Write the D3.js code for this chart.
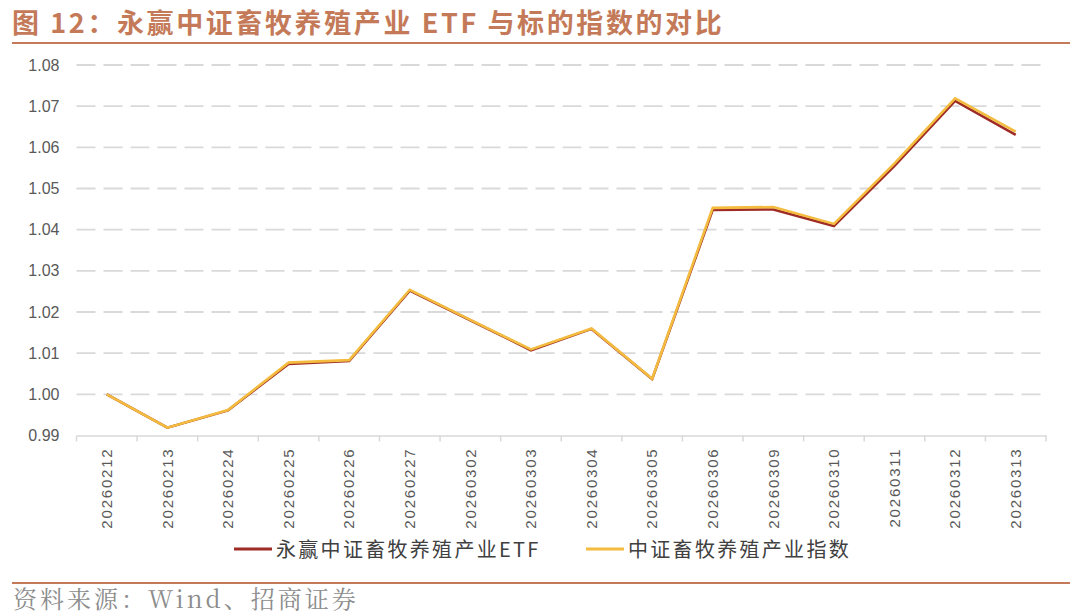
<!DOCTYPE html>
<html><head><meta charset="utf-8">
<script src="https://cdn.jsdelivr.net/npm/d3@7"></script>
<style>body{margin:0;background:#fff;} svg{display:block;}</style>
</head><body><svg id="c" width="1080" height="616"></svg>
<script>
const categories = ["20260212","20260213","20260224","20260225","20260226","20260227","20260302","20260303","20260304","20260305","20260306","20260309","20260310","20260311","20260312","20260313"];
const etfValues = [1.0000,0.9919,0.9961,1.0074,1.0081,1.0252,1.0180,1.0107,1.0159,1.0037,1.0448,1.0449,1.0409,1.0555,1.0713,1.0630];
const indexValues = [1.0000,0.9919,0.9962,1.0077,1.0083,1.0254,1.0181,1.0109,1.0160,1.0038,1.0453,1.0455,1.0414,1.0561,1.0719,1.0638];
const yTicks = [0.99,1.00,1.01,1.02,1.03,1.04,1.05,1.06,1.07,1.08];
const seriesNames = ["永赢中证畜牧养殖产业ETF","中证畜牧养殖产业指数"];
const colors = ["#9E2B25","#F3BC3E"];

(function(){
const svg = d3.select("#c");
const titleColor = "#C47A58";
const cjk = "'Noto Sans CJK SC','Noto Sans',sans-serif";
const sans = "'Liberation Sans',Arial,sans-serif";

// title
svg.append("text").attr("x",12).attr("y",33).attr("fill",titleColor)
  .attr("font-family",cjk).attr("font-weight","bold").attr("font-size",27)
  .attr("letter-spacing",2.6)
  .text("图 12：永赢中证畜牧养殖产业 ETF 与标的指数的对比");
svg.append("line").attr("x1",12).attr("x2",1070).attr("y1",43).attr("y2",43)
  .attr("stroke",titleColor).attr("stroke-width",2.2);

const pLeft=76.5, pRight=1046, pTop=65, pBottom=435.5;
const x = d3.scaleBand().domain(categories).range([pLeft,pRight]);
const y = d3.scaleLinear().domain([0.99,1.08]).range([pBottom,pTop]);

// gridlines
svg.append("g").selectAll("line").data(yTicks.filter(d=>d>0.99)).join("line")
  .attr("x1",pLeft).attr("x2",pRight).attr("y1",d=>y(d)).attr("y2",d=>y(d))
  .attr("stroke","#D9D9D9").attr("stroke-width",1.8).attr("stroke-dasharray","19,8");

// y axis labels
const yAxis = d3.axisLeft(y).tickValues(yTicks).tickFormat(d3.format(".2f")).tickSize(0).tickPadding(17);
const gy = svg.append("g").attr("transform",`translate(${pLeft},0)`).call(yAxis);
gy.select(".domain").remove();
gy.selectAll("text").attr("font-family",sans).attr("font-size",16).attr("fill","#595959");

// x axis
const gx = svg.append("g").attr("transform",`translate(0,${pBottom})`)
  .call(d3.axisBottom(x).tickSize(0).tickPadding(0));
gx.select(".domain").attr("stroke","#D9D9D9").attr("stroke-width",1.5);
gx.selectAll("text").attr("font-family",sans).attr("font-size",15).attr("fill","#595959")
  .attr("letter-spacing",1.8)
  .attr("transform","rotate(-90)").attr("text-anchor","end").attr("x",-12).attr("y",0).attr("dy","0.35em");
// band boundary ticks
const bounds = categories.map(c=>x(c)).concat([pRight]);
svg.append("g").selectAll("line").data(bounds).join("line")
  .attr("x1",d=>d).attr("x2",d=>d).attr("y1",pBottom).attr("y2",pBottom+6)
  .attr("stroke","#D9D9D9").attr("stroke-width",1.5);

// lines
const line = d3.line().x((d,i)=>x(categories[i])+x.bandwidth()/2).y(d=>y(d));
[etfValues,indexValues].forEach((vals,k)=>{
  svg.append("path").datum(vals).attr("d",line).attr("fill","none")
    .attr("stroke",colors[k]).attr("stroke-width",2.6).attr("stroke-linejoin","miter");
});

// legend
const legendItems = [{x:234,name:seriesNames[0],c:colors[0]},{x:586,name:seriesNames[1],c:colors[1]}];
legendItems.forEach(it=>{
  svg.append("line").attr("x1",it.x).attr("x2",it.x+38).attr("y1",549).attr("y2",549)
    .attr("stroke",it.c).attr("stroke-width",2.8);
  svg.append("text").attr("x",it.x+42).attr("y",556.5).attr("font-family",cjk)
    .attr("font-size",20).attr("letter-spacing",2.3).attr("fill","#404040").text(it.name);
});

// footer
svg.append("line").attr("x1",12).attr("x2",1070).attr("y1",583).attr("y2",583)
  .attr("stroke",titleColor).attr("stroke-width",2.2);
svg.append("text").attr("x",13).attr("y",608).attr("font-family","'Noto Serif CJK SC',"+cjk)
  .attr("font-size",24).attr("letter-spacing",3).attr("fill","#8C8C8C").text("资料来源：Wind、招商证券");
})();
</script></body></html>
